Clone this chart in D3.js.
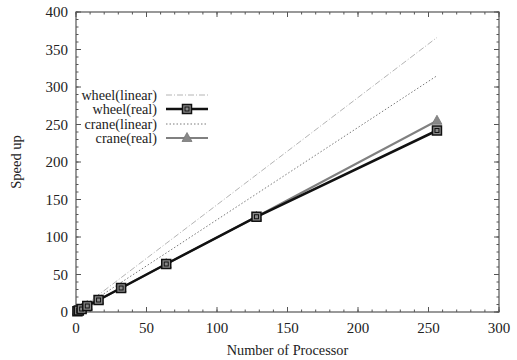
<!DOCTYPE html>
<html><head><meta charset="utf-8">
<script src="https://cdn.jsdelivr.net/npm/d3@7"></script>
<style>body{margin:0;background:#fff}svg{display:block}text{font-family:"Liberation Serif","Times New Roman",serif;fill:#222}</style>
</head><body><svg id="c" width="517" height="360"></svg>
<script>
const procs = [1, 2, 4, 8, 16, 32, 64, 128, 256];
const wheelLinear = [1.4, 2.9, 5.7, 11.5, 22.9, 45.8, 91.5, 183, 366];
const wheelReal = [1, 2, 4, 8, 16, 32, 64, 127, 242];
const craneLinear = [1.2, 2.5, 4.9, 9.8, 19.7, 39.4, 78.7, 157.5, 315];
const craneReal = [1, 2, 4, 8, 16, 32, 64, 127, 255];
const xTicks = [0, 50, 100, 150, 200, 250, 300];
const yTicks = [0, 50, 100, 150, 200, 250, 300, 350, 400];
const seriesNames = ["wheel(linear)", "wheel(real)", "crane(linear)", "crane(real)"];

const svg = d3.select("#c");
const L = 76, R = 499, T = 12, B = 312;
const x = d3.scaleLinear().domain([0, 300]).range([L, R]);
const y = d3.scaleLinear().domain([0, 400]).range([B, T]);
const minorX = d3.range(0, 301, 10), minorY = d3.range(0, 401, 10);
const axCol = "#555";

const g = svg.append("g");
function tickLines(vals, len, horiz) {
  vals.forEach(v => {
    if (horiz) {
      g.append("line").attr("x1", x(v)).attr("x2", x(v)).attr("y1", B).attr("y2", B - len).attr("stroke", axCol);
      g.append("line").attr("x1", x(v)).attr("x2", x(v)).attr("y1", T).attr("y2", T + len).attr("stroke", axCol);
    } else {
      g.append("line").attr("y1", y(v)).attr("y2", y(v)).attr("x1", L).attr("x2", L + len).attr("stroke", axCol);
      g.append("line").attr("y1", y(v)).attr("y2", y(v)).attr("x1", R).attr("x2", R - len).attr("stroke", axCol);
    }
  });
}
tickLines(minorX, 2.5, true);
tickLines(xTicks, 5, true);
tickLines(minorY, 2.5, false);
tickLines(yTicks, 5, false);
svg.append("rect").attr("x", L).attr("y", T).attr("width", R - L).attr("height", B - T)
  .attr("fill", "none").attr("stroke", axCol).attr("stroke-width", 1.2);

xTicks.forEach(v => svg.append("text").attr("x", x(v)).attr("y", B + 21).attr("text-anchor", "middle")
  .attr("font-size", 15).text(v));
yTicks.forEach(v => svg.append("text").attr("x", L - 8).attr("y", y(v) + 5).attr("text-anchor", "end")
  .attr("font-size", 15).text(v));
svg.append("text").attr("x", (L + R) / 2).attr("y", 355).attr("text-anchor", "middle").attr("font-size", 14.3)
  .text("Number of Processor");
svg.append("text").attr("transform", `translate(21,${(T + B) / 2}) rotate(-90)`).attr("text-anchor", "middle")
  .attr("font-size", 14.5).text("Speed up");

const styles = [
  {vals: wheelLinear, stroke: "#b4b4b4", width: 1, dash: "6,2,1,2", marker: null},
  {vals: craneLinear, stroke: "#7a7a7a", width: 1, dash: "1.5,2", marker: null},
  {vals: craneReal, stroke: "#808080", width: 2, dash: null, marker: "tri"},
  {vals: wheelReal, stroke: "#111", width: 2.5, dash: null, marker: "sq"}
];
const line = d3.line().x(d => x(d[0])).y(d => y(d[1]));
function drawMarker(sel, type, cx, cy) {
  if (type === "sq") {
    sel.append("rect").attr("x", cx - 4.5).attr("y", cy - 4.5).attr("width", 9).attr("height", 9)
      .attr("fill", "#888").attr("stroke", "#111").attr("stroke-width", 1.5);
    sel.append("rect").attr("x", cx - 2).attr("y", cy - 2).attr("width", 4).attr("height", 4)
      .attr("fill", "none").attr("stroke", "#111").attr("stroke-width", 1);
  } else if (type === "tri") {
    sel.append("path").attr("d", `M${cx},${cy - 5.5}L${cx + 5},${cy + 3.5}L${cx - 5},${cy + 3.5}Z`)
      .attr("fill", "#888").attr("stroke", "#777").attr("stroke-width", 0.8);
  }
}
styles.forEach(s => {
  const pts = procs.map((p, i) => [p, s.vals[i]]);
  svg.append("path").attr("d", line(pts)).attr("fill", "none").attr("stroke", s.stroke)
    .attr("stroke-width", s.width).attr("stroke-dasharray", s.dash);
  if (s.marker) pts.forEach(d => drawMarker(svg, s.marker, x(d[0]), y(d[1])));
});

const legStyles = [styles[0], styles[3], styles[1], styles[2]];
const rowsY = [95, 109, 124, 138];
seriesNames.forEach((n, i) => {
  const s = legStyles[i], ry = rowsY[i];
  svg.append("text").attr("x", 157).attr("y", ry + 4.5).attr("text-anchor", "end").attr("font-size", 14.2).text(n);
  svg.append("line").attr("x1", 166).attr("x2", 208).attr("y1", ry).attr("y2", ry).attr("stroke", s.stroke)
    .attr("stroke-width", s.width).attr("stroke-dasharray", s.dash);
  if (s.marker) drawMarker(svg, s.marker, 187, ry);
});
</script></body></html>
